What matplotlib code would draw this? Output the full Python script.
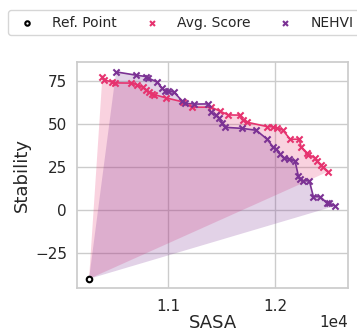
import numpy as np
import matplotlib
matplotlib.use('Agg')
import matplotlib.pyplot as plt
import seaborn as sns

sns.set_theme(style='whitegrid')
plt.rcParams['font.family'] = ['DejaVu Sans']

# 参考点
ref_point = (10257, -40)

# Avg. Score 帕累托前沿
avg_x = [10382, 10400, 10475, 10503, 10650, 10704, 10760, 10791, 10819, 10847,
         10869, 10978, 11135, 11219, 11400, 11484, 11562, 11672, 11695, 11735,
         11928, 11978, 12016, 12072, 12140, 12227, 12243, 12297, 12312, 12375,
         12391, 12428, 12447, 12499]
avg_y = [77.5, 75.6, 74.2, 73.8, 73.7, 72.8, 71.3, 69.8, 68.4, 67.4,
         67.0, 65.1, 62.8, 59.7, 59.7, 57.4, 55.2, 55.1, 52.2, 51.0,
         48.4, 48.3, 47.7, 46.5, 41.1, 41.1, 36.8, 33.0, 32.2, 30.1,
         28.5, 26.2, 24.8, 22.3]

# NEHVI 帕累托前沿
nehvi_x = [10510, 10697, 10791, 10811, 10897, 10938, 10969, 11000, 11056, 11126,
           11156, 11241, 11375, 11397, 11444, 11478, 11500, 11531, 11691, 11822,
           11925, 11978, 12009, 12047, 12084, 12134, 12187, 12218, 12234, 12265,
           12321, 12359, 12421, 12484, 12509, 12562]
nehvi_y = [80.2, 78.3, 77.5, 76.7, 74.2, 70.8, 69.0, 69.0, 68.4, 63.4,
           62.0, 61.5, 61.6, 56.7, 55.2, 53.3, 50.8, 48.0, 47.4, 46.3,
           41.2, 36.8, 35.3, 32.6, 30.1, 29.5, 28.5, 19.8, 17.8, 17.0,
           16.9, 7.7, 7.7, 4.2, 3.9, 2.3]

pink = '#e6336f'
purple = '#7b3294'

fig = plt.figure(figsize=(3.57, 3.31), dpi=100)
ax = fig.add_axes([0.216, 0.13, 0.759, 0.683])

for xs, ys, c, name in [(avg_x, avg_y, pink, 'Avg. Score'),
                        (nehvi_x, nehvi_y, purple, 'NEHVI')]:
    px = [ref_point[0]] + xs
    py = [ref_point[1]] + ys
    ax.fill(px, py, color=c, alpha=0.22, lw=0)
    ax.plot(xs, ys, color=c, lw=1.2, zorder=3)
    ax.scatter(xs, ys, marker='x', color=c, s=20, lw=1.5, zorder=4, label=name)

ax.scatter([ref_point[0]], [ref_point[1]], marker='o', facecolor='white',
           edgecolor='black', s=16, lw=1.5, zorder=5, label='Ref. Point')

ax.set_xlim(10145, 12684)
ax.set_ylim(-45.3, 86)
ax.set_xticks([11000, 12000])
ax.set_yticks([-25, 0, 25, 50, 75])
ax.ticklabel_format(axis='x', style='sci', scilimits=(0, 0))
ax.xaxis.get_offset_text().set_fontsize(11)
ax.xaxis.OFFSETTEXTPAD = 0.5
ax.tick_params(labelsize=11)
ax.tick_params(axis='x', pad=2.3)
ax.tick_params(axis='y', pad=1.3)
ax.set_xlabel('SASA', fontsize=13, labelpad=0)
ax.set_ylabel('Stability', fontsize=13, labelpad=3)

h, l = ax.get_legend_handles_labels()
order = [2, 0, 1]
fig.legend([h[i] for i in order], [l[i] for i in order], loc='upper left',
           bbox_to_anchor=(8 / 357, 1 - 10 / 331), ncol=3, fontsize=10,
           markerscale=0.8, borderaxespad=0, columnspacing=1.5, frameon=True)

plt.savefig('out.png', dpi=100)
